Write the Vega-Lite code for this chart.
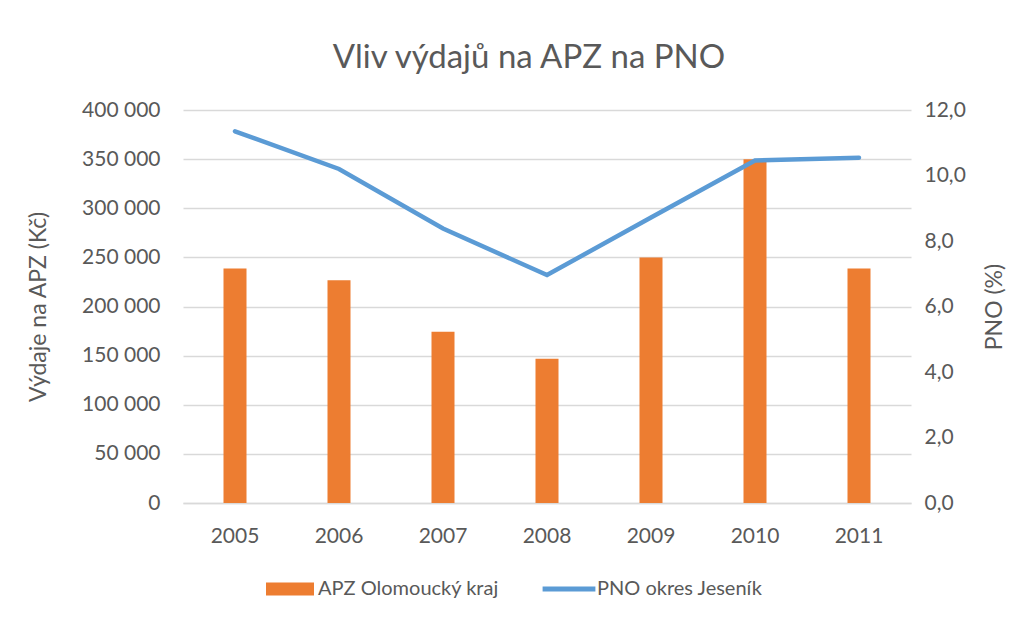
{
  "$schema": "https://vega.github.io/schema/vega-lite/v6.json",
  "autosize": {"type": "fit", "contains": "padding"},
  "width": 1036,
  "height": 621,
  "padding": {"left": 27, "right": 29, "top": 42, "bottom": 75},
  "background": "white",
  "title": {
    "text": "Vliv výdajů na APZ na PNO",
    "fontSize": 33,
    "fontWeight": "normal",
    "color": "#595959",
    "font": "Lato",
    "offset": 24,
    "dx": -18
  },
  "data": {
    "values": [
      {"rok": "2005", "apz": 238600, "pno": 11.35},
      {"rok": "2006", "apz": 226700, "pno": 10.2},
      {"rok": "2007", "apz": 174400, "pno": 8.38},
      {"rok": "2008", "apz": 146800, "pno": 6.96},
      {"rok": "2009", "apz": 250000, "pno": 8.72},
      {"rok": "2010", "apz": 350000, "pno": 10.46},
      {"rok": "2011", "apz": 238600, "pno": 10.54}
    ]
  },
  "encoding": {
    "x": {
      "field": "rok",
      "type": "ordinal",
      "title": null,
      "scale": {"paddingInner": 0, "paddingOuter": 0},
      "axis": {
        "labelAngle": 0,
        "ticks": false,
        "domainColor": "#d9d9d9",
        "domainWidth": 1.5,
        "labelPadding": 22
      }
    }
  },
  "layer": [
    {
      "mark": {"type": "bar", "size": 23, "color": "#ed7d31"},
      "encoding": {
        "y": {
          "field": "apz",
          "type": "quantitative",
          "title": "Výdaje na APZ (Kč)",
          "scale": {"domain": [0, 400000]},
          "axis": {
            "values": [0, 50000, 100000, 150000, 200000, 250000, 300000, 350000, 400000],
            "format": ",d",
            "grid": true,
            "gridColor": "#d9d9d9",
            "gridWidth": 1.5,
            "domain": false,
            "ticks": false,
            "labelPadding": 23,
            "titlePadding": 31
          }
        },
        "color": {
          "datum": "APZ Olomoucký kraj",
          "type": "nominal",
          "scale": {"domain": ["APZ Olomoucký kraj", "PNO okres Jeseník"], "range": ["#ed7d31", "#5b9bd5"]},
          "legend": {
            "title": null,
            "orient": "none",
            "legendX": 97,
            "legendY": 469,
            "direction": "horizontal",
            "columnPadding": 43,
            "symbolSize": 256,
            "labelLimit": 0,
            "labelOffset": 18,
            "encode": {
              "symbols": {
                "update": {
                  "shape": {"signal": "datum.value == 'APZ Olomoucký kraj' ? 'M-3,-0.8H3V0.8H-3Z' : 'M-3.3,-0.3H3.3V0.3H-3.3Z'"},
                  "size": {"value": 256},
                  "strokeWidth": {"value": 0}
                }
              }
            }
          }
        }
      }
    },
    {
      "mark": {"type": "line", "strokeWidth": 4.5, "strokeCap": "round", "strokeJoin": "miter", "color": "#5b9bd5"},
      "encoding": {
        "y": {
          "field": "pno",
          "type": "quantitative",
          "title": "PNO (%)",
          "scale": {"domain": [0, 12]},
          "axis": {
            "orient": "right",
            "values": [0, 2, 4, 6, 8, 10, 12],
            "format": ".1f",
            "grid": false,
            "domain": false,
            "ticks": false,
            "labelPadding": 13,
            "titleAngle": 270,
            "titlePadding": 41
          }
        },
        "color": {"datum": "PNO okres Jeseník", "type": "nominal"}
      }
    }
  ],
  "resolve": {"scale": {"y": "independent"}},
  "config": {
    "locale": {
      "number": {"decimal": ",", "thousands": " ", "grouping": [3], "currency": ["", " Kč"]}
    },
    "font": "Lato",
    "view": {"stroke": null},
    "axis": {
      "labelFont": "Lato",
      "titleFont": "Lato",
      "labelFontSize": 21,
      "titleFontSize": 23,
      "titleFontWeight": "normal",
      "labelColor": "#595959",
      "titleColor": "#595959"
    },
    "legend": {
      "labelFont": "Lato",
      "labelFontSize": 20,
      "labelColor": "#595959"
    }
  }
}
